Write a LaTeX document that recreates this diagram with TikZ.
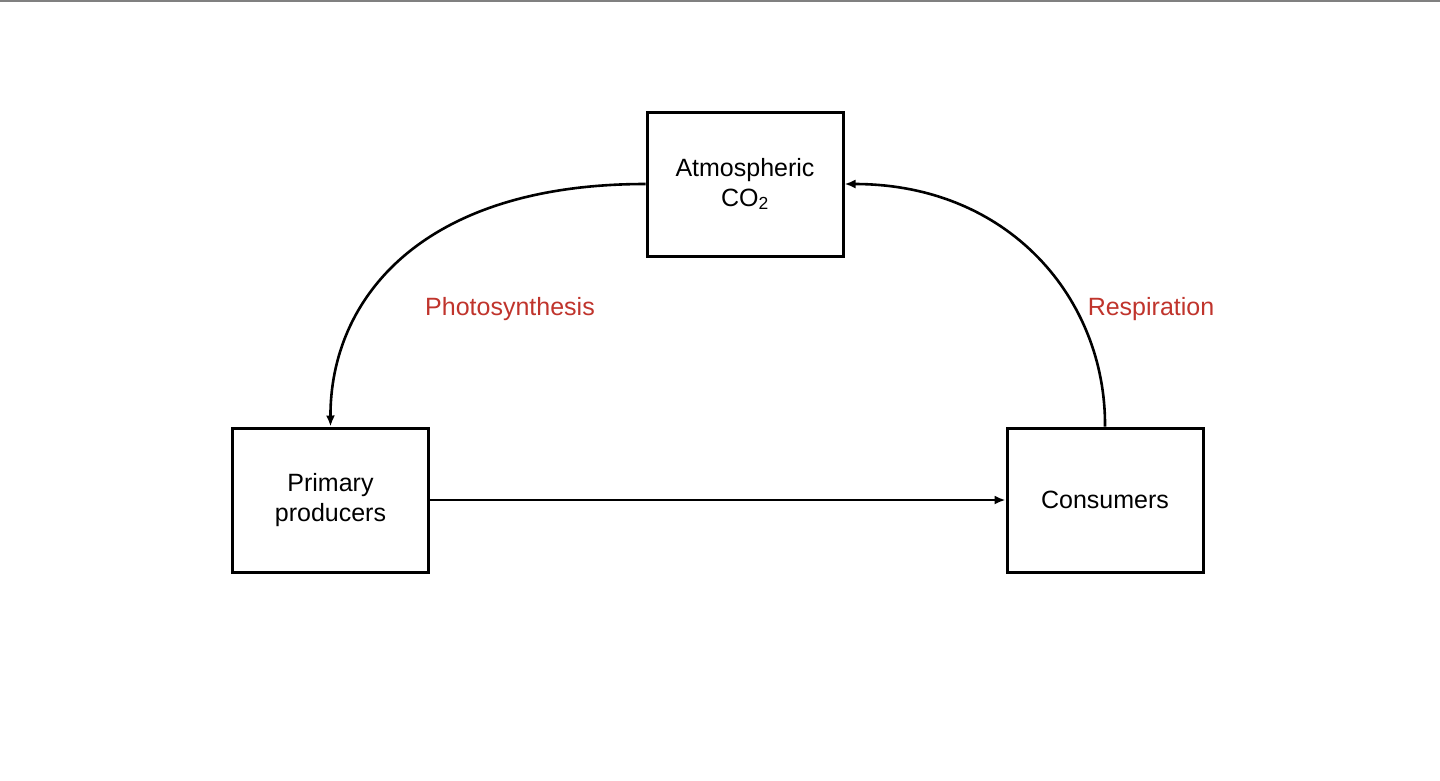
\documentclass[tikz,border=0pt]{standalone}
\usepackage{fontspec}
\setmainfont{Liberation Sans}
\usetikzlibrary{arrows.meta}
\definecolor{lab}{RGB}{192,52,44}
\begin{document}
\begin{tikzpicture}[x=1pt,y=-1pt,
  box/.style={draw,line width=3pt,minimum width=196pt,minimum height=144pt,align=center,font=\fontsize{25}{30}\selectfont,inner sep=0pt},
  conn/.style={line width=2.6pt,-{Latex[length=11pt,width=9pt]}},
  lbl/.style={text=lab,font=\fontsize{25}{30}\selectfont}]
\useasboundingbox (0,0) rectangle (1440,780);
\fill[white] (0,0) rectangle (1440,780);
\draw[gray,line width=2.5pt] (0,1) -- (1440,1);
\node[box] (atm) at (745,184) {Atmospheric\\CO\textsubscript{2}};
\node[box] (pp) at (330.5,500) {Primary\\producers};
\node[box] (con) at (1105,500) {Consumers};
\draw[conn] (atm.west) .. controls (420,184) and (330,300) .. (pp.north);
\draw[conn] (con.north) .. controls (1106,300) and (1010,184) .. (atm.east);
\draw[conn] (pp.east) -- (con.west);
\node[lbl] (ph) at (510,309) {Photosynthesis};
\node[lbl] (re) at (1151,309) {Respiration};
\end{tikzpicture}
\end{document}
